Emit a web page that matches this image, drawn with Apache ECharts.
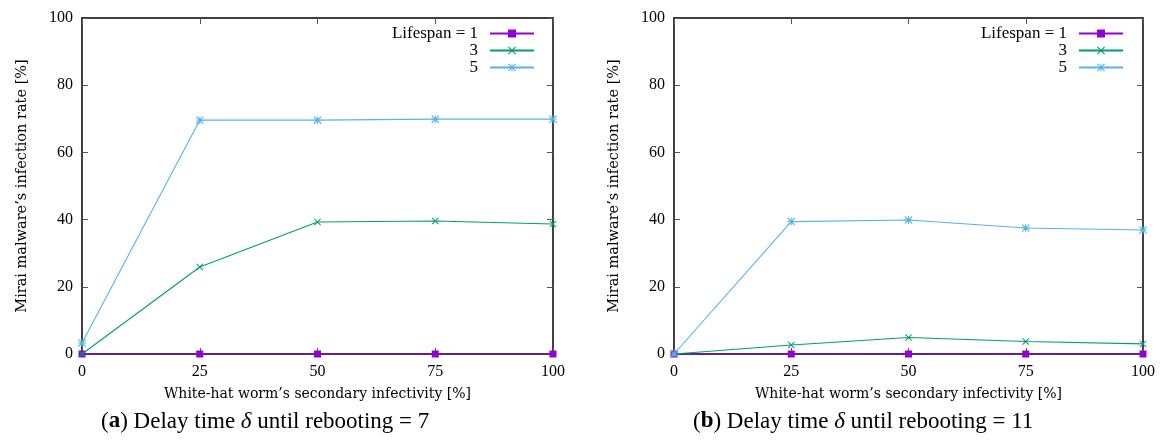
<!DOCTYPE html>
<html>
<head>
<meta charset="utf-8">
<script src="https://cdn.jsdelivr.net/npm/echarts@6/dist/echarts.min.js"></script>
<style>
  html, body { margin: 0; padding: 0; background: #fff; }
  #main { width: 1161px; height: 444px; }
</style>
</head>
<body>
<div id="main"></div>
<script>
// x values (white-hat worm's secondary infectivity, %)
var infectivity = [0, 25, 50, 75, 100];
var seriesNames = ['Lifespan = 1', '3', '5'];

// (a) delay time 7
var delay7_life1 = [0, 0, 0, 0, 0];
var delay7_life3 = [0, 25.9, 39.3, 39.6, 38.7];
var delay7_life5 = [3.3, 69.6, 69.6, 69.9, 69.9];

// (b) delay time 11
var delay11_life1 = [0, 0, 0, 0, 0];
var delay11_life3 = [0, 2.7, 4.9, 3.7, 3.0];
var delay11_life5 = [0, 39.4, 39.9, 37.5, 36.9];

var captions = ['7', '11'];

var colors = ['#9400d3', '#009e73', '#56b4e9'];
var serif = 'Liberation Serif';
var wideSerif = 'DejaVu Serif';

// marker shapes like gnuplot: filled square, x, asterisk
var xPath = 'path://M0,1L1,0L5,4L9,0L10,1L6,5L10,9L9,10L5,6L1,10L0,9L4,5Z';
var starPath = 'path://M0,1L1,0L5,4L9,0L10,1L6,5L10,9L9,10L5,6L1,10L0,9L4,5Z' +
  'M4.4,0L5.6,0L5.6,10L4.4,10Z M0,4.4L10,4.4L10,5.6L0,5.6Z';
var symbols = ['rect', xPath, starPath];
var symbolSizes = [7, 7, 8];

function pairs(vals) {
  return infectivity.map(function (x, i) { return [x, vals[i]]; });
}

var grids = [
  { left: 82, top: 18, width: 471, height: 336 },
  { left: 674, top: 18, width: 469, height: 336 }
];

var xAxes = [], yAxes = [], series = [];
var dataSets = [
  [delay7_life1, delay7_life3, delay7_life5],
  [delay11_life1, delay11_life3, delay11_life5]
];

grids.forEach(function (g, gi) {
  var tick = { show: true, inside: true, length: 6, lineStyle: { color: '#555', width: 1 } };
  var line = { show: true, onZero: false, lineStyle: { color: '#000', width: 1.5 } };
  xAxes.push({
    type: 'value', gridIndex: gi, position: 'bottom', min: 0, max: 100, interval: 25,
    axisLine: line, axisTick: tick, splitLine: { show: false },
    axisLabel: { fontFamily: serif, fontSize: 16, color: '#000', margin: 10 },
    name: "White-hat worm\u2019s secondary infectivity [%]", nameLocation: 'middle', nameGap: 33,
    nameTextStyle: { fontFamily: wideSerif, fontSize: 14, color: '#000' }
  });
  xAxes.push({
    type: 'value', gridIndex: gi, position: 'top', min: 0, max: 100, interval: 25,
    axisLine: line, axisTick: tick, splitLine: { show: false }, axisLabel: { show: false }
  });
  yAxes.push({
    type: 'value', gridIndex: gi, position: 'left', min: 0, max: 100, interval: 20,
    axisLine: line, axisTick: tick, splitLine: { show: false },
    axisLabel: { fontFamily: serif, fontSize: 16, color: '#000', margin: 9 },
    name: "Mirai malware\u2019s infection rate [%]", nameLocation: 'middle', nameGap: 52,
    nameTextStyle: { fontFamily: wideSerif, fontSize: 14.5, color: '#000' }
  });
  yAxes.push({
    type: 'value', gridIndex: gi, position: 'right', min: 0, max: 100, interval: 20,
    axisLine: line, axisTick: tick, splitLine: { show: false }, axisLabel: { show: false }
  });

  dataSets[gi].forEach(function (vals, si) {
    series.push({
      name: seriesNames[si],
      type: 'line',
      xAxisIndex: gi * 2,
      yAxisIndex: gi * 2,
      data: pairs(vals),
      symbol: symbols[si],
      symbolSize: symbolSizes[si],
      showAllSymbol: true,
      clip: false,
      color: colors[si],
      lineStyle: { width: 1.1, color: colors[si] },
      itemStyle: { color: colors[si] },
      z: 3 + si,
      animation: false
    });
  });
});

var legendBase = {
  orient: 'vertical', align: 'right', top: 20,
  itemWidth: 44, itemHeight: 10, itemGap: 0,
  data: seriesNames,
  textStyle: { fontFamily: serif, fontSize: 17, color: '#000', lineHeight: 15, padding: [0, 7, 0, 0] },
  selectedMode: false
};

var legends = [
  Object.assign({}, legendBase, { right: 621 }),
  Object.assign({}, legendBase, { right: 32 })
];

function caption(letter, val, left) {
  var base = { fontFamily: serif, fontSize: 23, color: '#000', fontWeight: 'normal' };
  return {
    left: left, top: 405,
    text: '{n|(}{b|' + letter + '}{n|) Delay time }{i|\u03b4}{n| until rebooting = ' + val + '}',
    textStyle: {
      fontWeight: 'normal',
      rich: {
        n: base,
        b: Object.assign({}, base, { fontWeight: 'bold' }),
        i: Object.assign({}, base, { fontStyle: 'italic' })
      }
    }
  };
}

var myChart = echarts.init(document.getElementById('main'), null, { renderer: 'canvas' });
myChart.setOption({
  animation: false,
  backgroundColor: '#fff',
  title: [caption('a', captions[0], 96), caption('b', captions[1], 688)],
  legend: legends,
  grid: grids,
  xAxis: xAxes,
  yAxis: yAxes,
  series: series
});
</script>
</body>
</html>
